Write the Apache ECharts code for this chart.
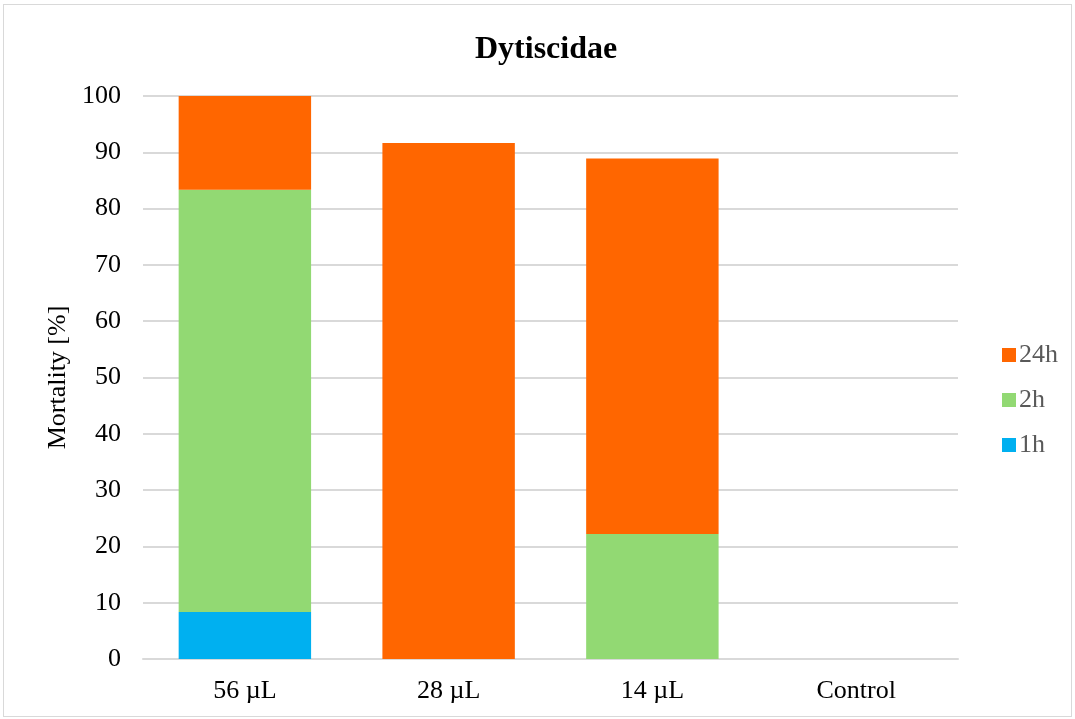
<!DOCTYPE html>
<html>
<head>
<meta charset="utf-8">
<script src="https://cdn.jsdelivr.net/npm/echarts@6/dist/echarts.min.js"></script>
<style>
  html, body { margin: 0; padding: 0; background: #fff; }
  #frame { position: absolute; left: 3px; top: 4px; width: 1069px; height: 713px; border: 1.5px solid #d9d9d9; box-sizing: border-box; }
  #chart { position: absolute; left: 0; top: 0; width: 1075px; height: 719px; }
</style>
</head>
<body>
<div id="frame"></div>
<div id="chart"></div>
<script>
// Dose groups on the x axis
const categories = ['56 µL', '28 µL', '14 µL', 'Control'];
// Mortality increments by exposure time (stacked)
const mortality1h = [8.33, 0, 0, 0];
const mortality2h = [75.0, 0, 22.22, 0];
const mortality24h = [16.67, 91.67, 66.67, 0];
const yTicks = { min: 0, max: 100, interval: 10 };

const font = 'Liberation Serif, Times New Roman, serif';
const chart = echarts.init(document.getElementById('chart'));

function stackSeries(name, data, color) {
  return {
    name, type: 'bar', stack: 'total', data,
    barWidth: '65%',
    itemStyle: { color },
    emphasis: { disabled: true }
  };
}

chart.setOption({
  animation: false,
  title: {
    text: 'Dytiscidae', left: 470, top: 29,
    textStyle: { fontFamily: font, fontSize: 32, fontWeight: 'bold', color: '#000' }
  },
  legend: {
    orient: 'vertical', left: 997, top: 337, itemGap: 19,
    itemWidth: 14, itemHeight: 14, icon: 'rect',
    data: ['24h', '2h', '1h'],
    textStyle: { fontFamily: font, fontSize: 26, color: '#595959', padding: [0, 0, 0, -2] }
  },
  grid: { left: 143, right: 117, top: 96, bottom: 60 },
  xAxis: {
    type: 'category', data: categories,
    axisLine: { lineStyle: { color: '#d9d9d9', width: 2 } },
    axisTick: { show: false },
    axisLabel: { fontFamily: font, fontSize: 26, color: '#000', margin: 19 }
  },
  yAxis: {
    type: 'value', min: yTicks.min, max: yTicks.max, interval: yTicks.interval,
    name: 'Mortality [%]', nameLocation: 'middle', nameGap: 71,
    nameTextStyle: { fontFamily: font, fontSize: 26, color: '#000' },
    axisLine: { show: false }, axisTick: { show: false },
    axisLabel: { fontFamily: font, fontSize: 26, color: '#000', margin: 22 },
    splitLine: { lineStyle: { color: '#d9d9d9', width: 2 } }
  },
  series: [
    stackSeries('1h', mortality1h, '#00b0f0'),
    stackSeries('2h', mortality2h, '#92d973'),
    stackSeries('24h', mortality24h, '#ff6600')
  ]
});
</script>
</body>
</html>
